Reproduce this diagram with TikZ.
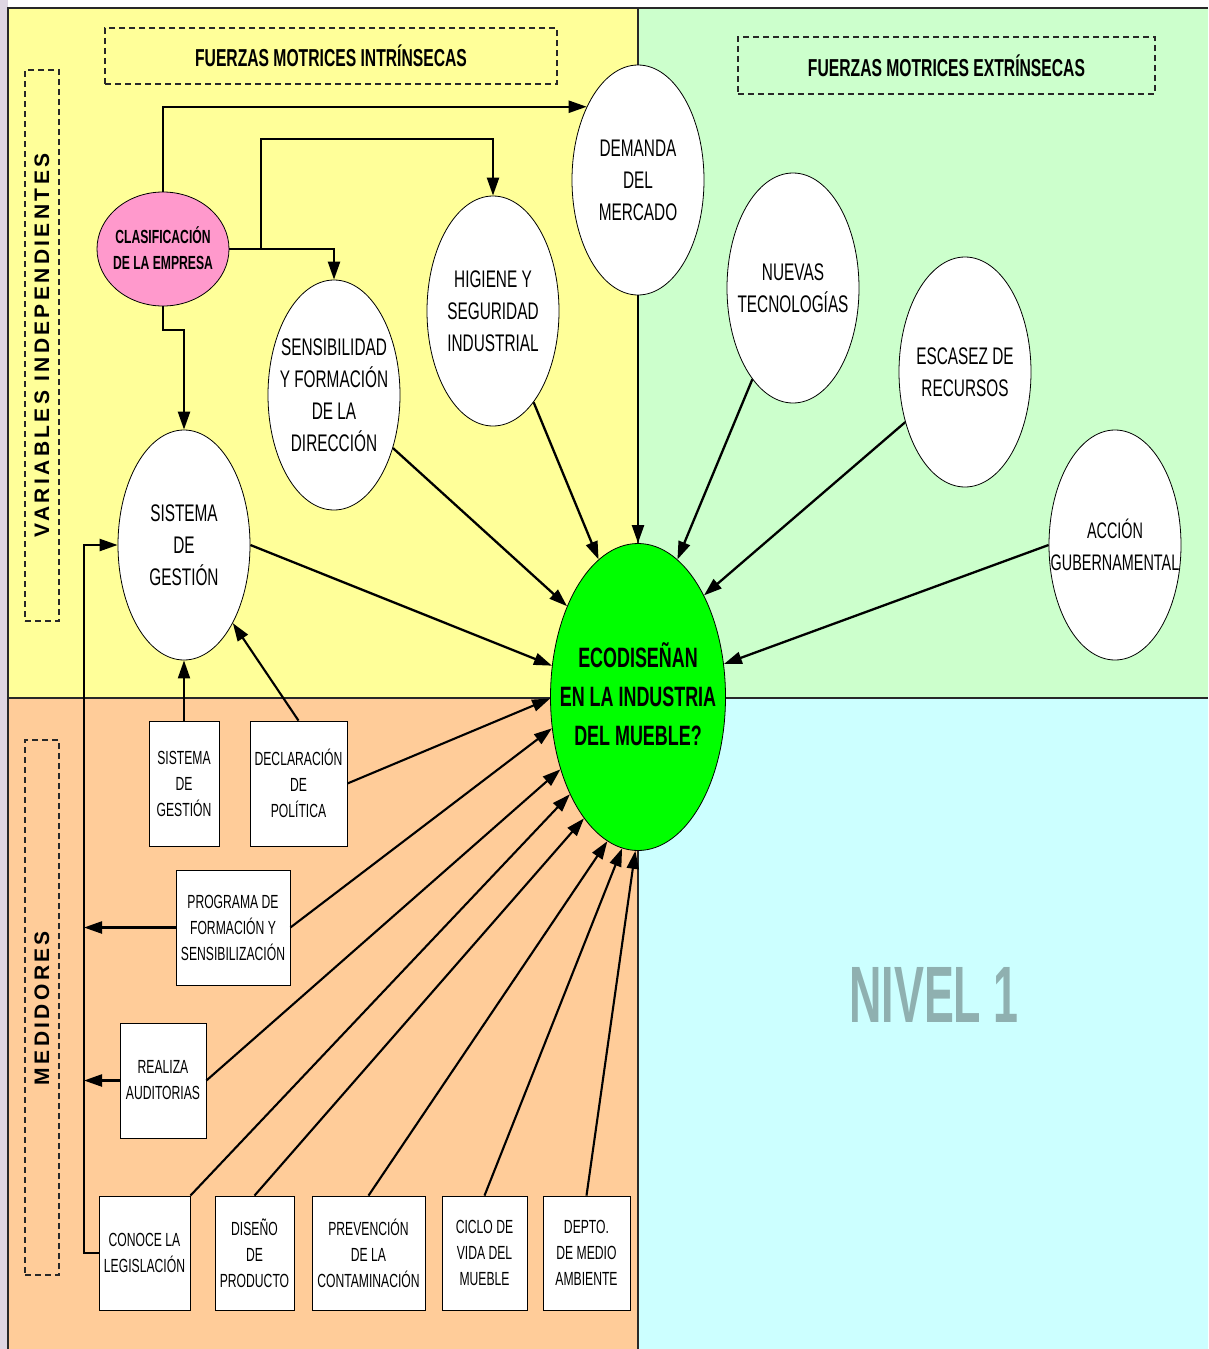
\documentclass[tikz,border=0pt]{standalone}
\usepackage{fontspec}
\setmainfont{Liberation Sans}[FakeStretch=0.64]
\newfontfamily\nivelfont{Liberation Sans}[FakeStretch=0.56]
\newfontfamily\widefont{Liberation Sans}[LetterSpace=16]
\usetikzlibrary{arrows.meta,shapes.geometric}
\definecolor{qyellow}{HTML}{FFFF99}
\definecolor{qgreen}{HTML}{CCFFCC}
\definecolor{qorange}{HTML}{FFCC99}
\definecolor{qcyan}{HTML}{CCFFFF}
\definecolor{qpink}{HTML}{FF99CC}
\definecolor{ecogreen}{HTML}{00FF00}
\definecolor{nivelc}{RGB}{143,176,176}
\definecolor{lav}{RGB}{222,214,226}
\definecolor{framec}{RGB}{40,40,40}
\tikzset{
  ell/.style={ellipse, draw, fill=white, inner sep=0pt, line width=0.8pt,
    minimum width=132pt, minimum height=230pt},
  ellt/.style={align=center, font=\fontsize{24}{32}\selectfont},
  boxn/.style={rectangle, draw, fill=white, inner sep=1pt, line width=0.8pt,
    align=center, font=\fontsize{19}{26}\selectfont},
  dashbox/.style={draw=framec, dash pattern=on 6pt off 4pt, line width=1.1pt},
  title/.style={font=\bfseries\fontsize{24.5}{30}\selectfont},
  sidet/.style={rotate=90, font=\widefont\bfseries\fontsize{21}{24}\selectfont},
  arr/.style={line width=2.3pt, -{Triangle[length=18pt,width=12pt]}},
  arrs/.style={line width=2.1pt, -{Triangle[length=18pt,width=12pt]}},
}
\begin{document}
\begin{tikzpicture}[x=1pt,y=-1pt]
\useasboundingbox (0,0) rectangle (1208,1349);
\fill[white] (0,0) rectangle (1208,1349);
\fill[lav] (0,0) rectangle (8,1349);
% quadrants
\fill[qyellow] (8,8) rectangle (638,698);
\fill[qgreen] (638,8) rectangle (1208,698);
\fill[qorange] (8,698) rectangle (638,1349);
\fill[qcyan] (638,698) rectangle (1208,1349);
\draw[framec, line width=1.2pt] (8,1349) -- (8,8) -- (1208,8);
\draw[framec, line width=1.2pt] (638,8) -- (638,1349);
\draw[framec, line width=1.2pt] (8,698) -- (1208,698);

% dashed title boxes
\node[dashbox, minimum width=452pt, minimum height=56pt, title] (fmi) at (331,56) {FUERZAS MOTRICES INTRÍNSECAS};
\node[dashbox, minimum width=417pt, minimum height=57pt, title] (fme) at (946.5,65.5) {FUERZAS MOTRICES EXTRÍNSECAS};
\node[dashbox, minimum width=34pt, minimum height=551pt] (vib) at (42,345.5) {};
\node[sidet] (vit) at (42,345.5) {VARIABLES INDEPENDIENTES};
\node[dashbox, minimum width=34pt, minimum height=535pt] (meb) at (42,1007.5) {};
\node[sidet] (met) at (42,1008) {MEDIDORES};

% NIVEL 1
\node[text=nivelc, font=\nivelfont\bfseries\fontsize{80}{90}\selectfont] (niv) at (934,995) {NIVEL 1};

% ellipses
\node[ellipse, draw, fill=qpink, inner sep=0pt, line width=0.8pt, minimum width=132pt, minimum height=114pt,
  label={[align=center, yshift=1pt, font=\bfseries\fontsize{19}{26}\selectfont]center:{CLASIFICACIÓN\\DE LA EMPRESA}}] (cla) at (163,249) {};
\node[ell, label={[ellt]center:{DEMANDA\\DEL\\MERCADO}}] (dem) at (638,180) {};
\node[ell, label={[ellt]center:{HIGIENE Y\\SEGURIDAD\\INDUSTRIAL}}] (hig) at (493,311) {};
\node[ell, label={[ellt]center:{SENSIBILIDAD\\Y FORMACIÓN\\DE LA\\DIRECCIÓN}}] (sen) at (334,395) {};
\node[ell, label={[ellt]center:{SISTEMA\\DE\\GESTIÓN}}] (sys) at (184,545) {};
\node[ell, label={[ellt]center:{NUEVAS\\TECNOLOGÍAS}}] (nue) at (793,288) {};
\node[ell, label={[ellt]center:{ESCASEZ DE\\RECURSOS}}] (esc) at (965,372) {};
\node[ell, label={[ellt, font=\fontsize{22.5}{32}\selectfont]center:{ACCIÓN\\GUBERNAMENTAL}}] (acc) at (1115,545) {};
\node[ellipse, draw, fill=ecogreen, inner sep=0pt, line width=0.8pt, minimum width=175pt, minimum height=307pt,
  label={[align=center, yshift=2.5pt, font=\bfseries\fontsize{28}{39}\selectfont]center:{ECODISEÑAN\\EN LA INDUSTRIA\\DEL MUEBLE?}}] (eco) at (638,697) {};
% boxes
\node[boxn, minimum width=70pt, minimum height=125pt] (sgb) at (184,783.5) {SISTEMA\\DE\\GESTIÓN};
\node[boxn, minimum width=97pt, minimum height=125pt] (dec) at (298.5,783.5) {DECLARACIÓN\\DE\\POLÍTICA};
\node[boxn, minimum width=114pt, minimum height=115pt] (pro) at (233,927.5) {PROGRAMA DE\\FORMACIÓN Y\\SENSIBILIZACIÓN};
\node[boxn, minimum width=86pt, minimum height=115pt] (rea) at (163,1080.5) {REALIZA\\AUDITORIAS};
\node[boxn, minimum width=91pt, minimum height=114pt] (con) at (144.5,1253) {CONOCE LA\\LEGISLACIÓN};
\node[boxn, minimum width=79pt, minimum height=114pt] (dis) at (254.5,1253) {DISEÑO\\DE\\PRODUCTO};
\node[boxn, minimum width=113pt, minimum height=114pt] (pre) at (368.5,1253) {PREVENCIÓN\\DE LA\\CONTAMINACIÓN};
\node[boxn, minimum width=85pt, minimum height=114pt] (cic) at (484.5,1253) {CICLO DE\\VIDA DEL\\MUEBLE};
\node[boxn, minimum width=87pt, minimum height=114pt] (dep) at (586.5,1253) {DEPTO.\\DE MEDIO\\AMBIENTE};

% helper coordinates
\coordinate (j1) at (261,249);
\coordinate (h1) at (493,139);
\coordinate (c1) at (163,330);
\coordinate (fb) at (84,1253);

% connectors from CLASIFICACION
\draw[arr] (cla.north) |- (dem.125.8);
\draw[arr] (cla.east) -| (sen.north);
\draw[arr] (j1) |- (h1) -- (hig.north);
\draw[arr] (cla.south) -- (c1) -| (sys.north);

% upper nodes to ECO
\draw[arr] (sys.east) -- (eco.160);
\draw[arr] (sen.-42) -- (eco.128);
\draw[arr] (hig.-66) -- (eco.106);
\draw[arr] (dem.south) -- (eco.north);
\draw[arr] (nue.246) -- (eco.74);
\draw[arr] (esc.220) -- (eco.57);
\draw[arr] (acc.west) -- (eco.21);

% boxes
\draw[arrs] (sgb.north) -- (sys.south);
\draw[arrs] (dec.north) -- (sys.-58);
\draw[arrs] (dec.east) -- (eco.181);
\draw[arrs] (pro.east) -- (eco.200);
\draw[arrs] (rea.east) -- (eco.223);
\draw[arrs] (con.north east) -- (eco.235);
\draw[arrs] (dis.north) -- (eco.246);
\draw[arrs] (pre.north) -- (eco.258);
\draw[arrs] (cic.north) -- (eco.264);
\draw[arrs] (dep.north) -- (eco.269);

% feedback
\draw[arr] (con.west) -- (fb) |- (sys.west);
\draw[arr] (pro.west) -- (pro.west -| fb);
\draw[arr] (rea.west) -- (rea.west -| fb);
\end{tikzpicture}
\end{document}
